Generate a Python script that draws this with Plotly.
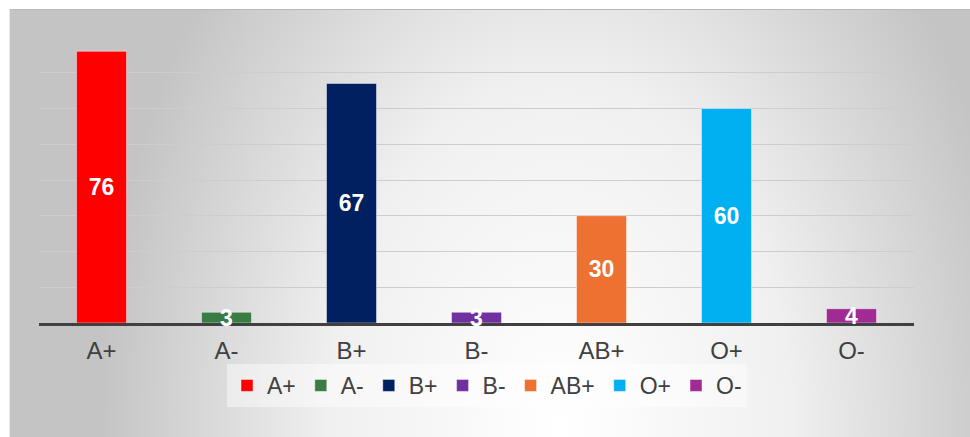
import base64
import plotly.graph_objects as go

# ---- data ----
categories = ["A+", "A-", "B+", "B-", "AB+", "O+", "O-"]
values = [76, 3, 67, 3, 30, 60, 4]
colors = ["#FF0000", "#3A7D44", "#002060", "#7030A0", "#ED7131", "#00B0F0", "#A02B93"]

W, H = 970, 437
ML, MR, MT, MB = 39, 56, 37, 114
pw = W - ML - MR
ph = H - MT - MB

def px_x(p):
    return (p - ML) / pw

def px_y(p):
    return (H - MB - p) / ph

FONT = "Arial, Liberation Sans, sans-serif"

fig = go.Figure()
for cat, val, col in zip(categories, values, colors):
    fig.add_trace(go.Bar(
        x=[cat], y=[val], name=cat,
        marker=dict(color=col, line=dict(color="rgba(255,255,255,0.45)", width=1)),
        width=0.4,
        text=[val], textposition="inside", insidetextanchor="middle", textangle=0,
        textfont=dict(color="white", size=23, family=FONT, weight="bold"),
        cliponaxis=False,
    ))

# background gradient frame (SVG)
fw, fh = W - 9, H - 9
svg = (
    f'<svg xmlns="http://www.w3.org/2000/svg" width="{fw}" height="{fh}" viewBox="0 0 {fw} {fh}" preserveAspectRatio="none">'
    '<defs><radialGradient id="g" gradientUnits="userSpaceOnUse" cx="551" cy="421" r="460" '
    'gradientTransform="translate(551 421) scale(1 1.52) translate(-551 -421)">'
    '<stop offset="0" stop-color="#ffffff"/><stop offset="0.5" stop-color="#f0f0f0"/>'
    '<stop offset="1" stop-color="#c4c4c4"/></radialGradient></defs>'
    f'<rect width="{fw}" height="{fh}" fill="url(#g)"/>'
    f'<line x1="0" y1="0.5" x2="{fw}" y2="0.5" stroke="#b8b8b8" stroke-width="1"/>'
    f'<line x1="0.5" y1="0" x2="0.5" y2="{fh}" stroke="#e8e8e8" stroke-width="1"/>'
    '</svg>'
)
src = "data:image/svg+xml;base64," + base64.b64encode(svg.encode()).decode()
fig.add_layout_image(dict(
    source=src, xref="paper", yref="paper",
    x=px_x(9), y=px_y(9), sizex=fw / pw, sizey=fh / ph,
    xanchor="left", yanchor="top", sizing="stretch", layer="below",
))

fig.update_layout(
    width=W, height=H,
    margin=dict(l=ML, r=MR, t=MT, b=MB),
    paper_bgcolor="white", plot_bgcolor="rgba(0,0,0,0)",
    barmode="overlay",
    uniformtext=dict(mode="show", minsize=23),
    font=dict(family=FONT, color="#404040"),
    showlegend=True,
    legend=dict(
        orientation="h", x=px_x(487), xanchor="center", y=px_y(364), yanchor="top",
        bgcolor="rgba(255,255,255,0.45)", font=dict(size=23, color="#404040", family=FONT),
        itemwidth=30, tracegroupgap=0,
    ),
    xaxis=dict(
        showgrid=False, showline=True, linecolor="#404040", linewidth=3,
        ticks="outside", ticklen=4, tickcolor="rgba(0,0,0,0)",
        tickfont=dict(size=24, color="#404040", family=FONT), fixedrange=True,
        layer="below traces",
    ),
    yaxis=dict(
        range=[0, 80], dtick=10, showticklabels=False, showgrid=True,
        gridcolor="#cdcdcd", gridwidth=1, zeroline=False, showline=False,
        layer="below traces",
    ),
)

fig.write_html("out.html")
